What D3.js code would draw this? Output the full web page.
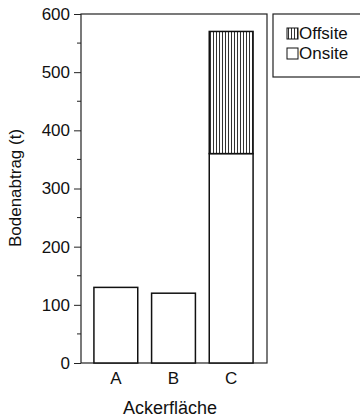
<!DOCTYPE html>
<html><head><meta charset="utf-8">
<script src="https://cdn.jsdelivr.net/npm/d3@7"></script>
<style>body{margin:0;background:#fff}svg{display:block;font-family:"Liberation Sans",Arial,sans-serif}</style>
</head><body>
<svg id="c" width="360" height="419"></svg>
<script>
const categories = ["A","B","C"];
const onsite = [130, 120, 360];
const offsite = [0, 0, 210];
const yTicks = [0,100,200,300,400,500,600];
const yMinor = [50,150,250,350,450,550];
const seriesNames = ["Offsite","Onsite"];

(function(){
const svg = d3.select("#c");
const FF = "Liberation Sans, Arial, sans-serif";
const mLeft = 81, mRight = 267, mTop = 14, mBottom = 363;
const x = d3.scaleBand().domain(categories).range([87, 260]).paddingInner(0.24).paddingOuter(0.12);
const y = d3.scaleLinear().domain([0, 600]).range([mBottom, mTop]);

const defs = svg.append("defs");
const pat = defs.append("pattern").attr("id","vh").attr("patternUnits","userSpaceOnUse").attr("width",3).attr("height",6);
pat.append("rect").attr("width",3).attr("height",6).attr("fill","#fff");
pat.append("line").attr("x1",0.5).attr("x2",0.5).attr("y1",0).attr("y2",6).attr("stroke","#333").attr("stroke-width",1);

svg.append("rect").attr("x",mLeft).attr("y",mTop).attr("width",mRight-mLeft).attr("height",mBottom-mTop)
  .attr("fill","none").attr("stroke","#222").attr("stroke-width",1.2);

const data = categories.map((c,i)=>({c, on: onsite[i], off: offsite[i]}));
svg.selectAll("rect.on").data(data).join("rect").attr("class","on")
  .attr("x",d=>x(d.c)).attr("width",x.bandwidth())
  .attr("y",d=>y(d.on)).attr("height",d=>y(0)-y(d.on))
  .attr("fill","#fff").attr("stroke","#111").attr("stroke-width",1.5);
svg.selectAll("rect.off").data(data.filter(d=>d.off>0)).join("rect").attr("class","off")
  .attr("x",d=>x(d.c)).attr("width",x.bandwidth())
  .attr("y",d=>y(d.on+d.off)).attr("height",d=>y(d.on)-y(d.on+d.off))
  .attr("fill","url(#vh)").attr("stroke","#111").attr("stroke-width",1.5);

const ya = svg.append("g").attr("transform",`translate(${mLeft},0)`)
  .call(d3.axisLeft(y).tickValues(yTicks).tickSize(7).tickPadding(4));
ya.select(".domain").remove();
ya.attr("font-size",17).attr("font-family",FF);
ya.selectAll("text").attr("fill","#111");
ya.selectAll("line").attr("stroke","#222");
svg.append("g").selectAll("line").data(yMinor).join("line")
  .attr("x1",mLeft-4).attr("x2",mLeft).attr("y1",d=>y(d)).attr("y2",d=>y(d)).attr("stroke","#222");

const xa = svg.append("g").attr("transform",`translate(0,${mBottom})`)
  .call(d3.axisBottom(x).tickSize(0).tickPadding(9));
xa.select(".domain").remove();
xa.attr("font-size",17).attr("font-family",FF);
xa.selectAll("text").attr("fill","#111");

svg.append("text").attr("x",170).attr("y",414).attr("text-anchor","middle").attr("font-size",18).attr("font-family",FF).attr("fill","#111").text("Ackerfläche");
svg.append("text").attr("transform","translate(21,188) rotate(-90)").attr("text-anchor","middle").attr("font-size",17).attr("font-family",FF).attr("fill","#111").text("Bodenabtrag (t)");

svg.append("rect").attr("x",273).attr("y",14).attr("width",95).attr("height",63).attr("fill","#fff").attr("stroke","#222").attr("stroke-width",1.2);
const fills = ["url(#vh)","#fff"];
seriesNames.forEach((n,i)=>{
  const base = 39 + i*20;
  svg.append("rect").attr("x",287).attr("y",base-11).attr("width",11).attr("height",11).attr("fill",fills[i]).attr("stroke","#111").attr("stroke-width",1);
  svg.append("text").attr("x",299).attr("y",base).attr("font-size",17).attr("font-family",FF).attr("fill","#111").text(n);
});
})();
</script>
</body></html>
